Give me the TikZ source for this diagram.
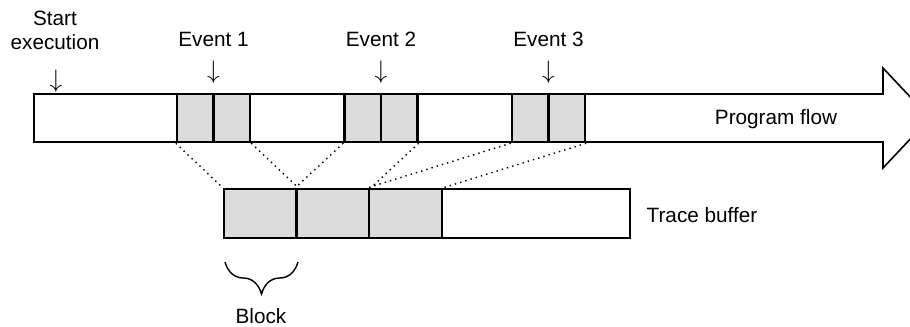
\documentclass[tikz,border=0pt]{standalone}
\usepackage{fontspec}
\setmainfont{Liberation Sans}
\usetikzlibrary{decorations.pathreplacing}

\begin{document}
\begin{tikzpicture}[x=0.02cm,y=-0.02cm,font=\fontsize{11.8}{13.6}\selectfont,
  evt/.style={draw,line width=1.4pt,fill=black!14,minimum width=1.46cm,minimum height=0.96cm,inner sep=0pt},
  down/.style={font=\fontsize{14}{14}\selectfont},
  link/.style={line width=0.8pt,dash pattern=on 0.8pt off 2.3pt}]
\useasboundingbox (0,0) rectangle (910,326);
% program flow arrow
\draw[line width=0.9pt] (34,94) -- (883,94) -- (883,68) -- (930,118) -- (883,168) -- (883,142) -- (34,142) -- cycle;
\node (flow) at (776,119) {Program flow};
\node[align=center] (start) at (55,30) {Start\\execution};
\node[down] (sarr) at (56,81) {$\downarrow$};
\foreach \n/\x in {1/213.5,2/381,3/548.5} {
    \node[evt] (e\n) at (\x,118) {};
    \draw[line width=1.4pt] (e\n.north) -- (e\n.south);
    \node[down] (a\n) at (\x,72) {$\downarrow$};
    \node (l\n) at (\x,39) {Event \n};
}
% trace buffer
\node[draw,line width=1.3pt,minimum width=8.12cm,minimum height=0.98cm,inner sep=0pt] (buf) at (427,213.5) {};
\foreach \n/\x in {1/260.5,2/333,3/405.5}
    \node[evt,minimum height=0.98cm] (b\n) at (\x,213.5) {};
\node (tb) at (702,215) {Trace buffer};
\foreach \n in {1,2,3} {
    \draw[link] (e\n.south west) -- (b\n.north west);
    \draw[link] (e\n.south east) -- (b\n.north east);
}
\draw[line width=0.8pt,decorate,decoration={brace,mirror,amplitude=0.64cm}] (225,262) -- (298,262);
\node (blk) at (261,316) {Block};
\end{tikzpicture}
\end{document}
